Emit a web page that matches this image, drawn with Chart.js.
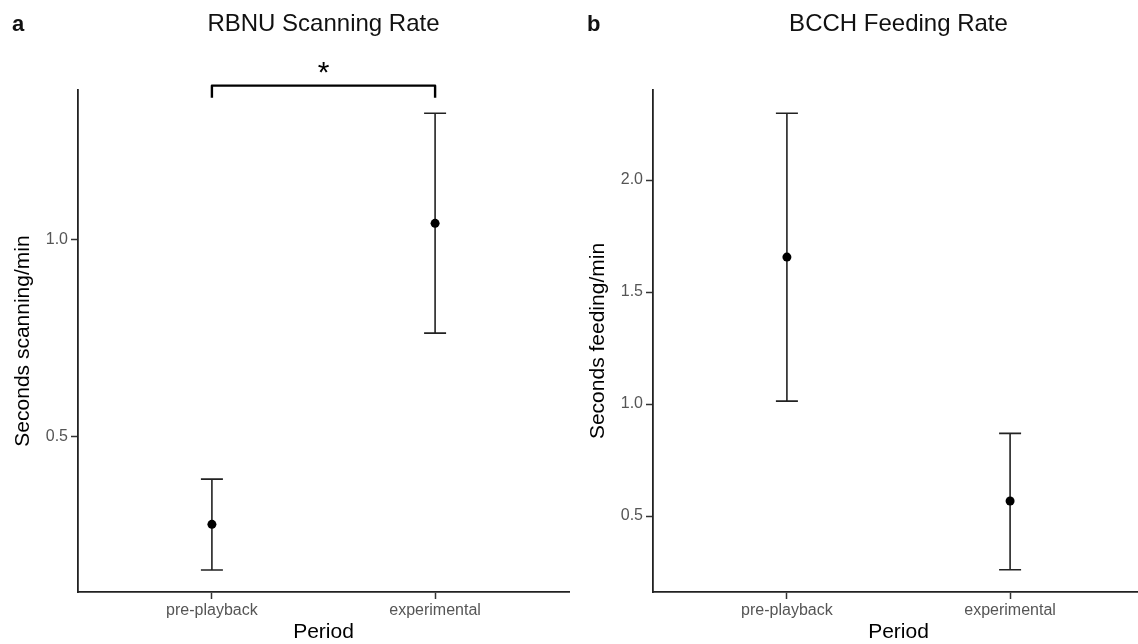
<!DOCTYPE html>
<html>
<head>
<meta charset="utf-8">
<script src="https://cdn.jsdelivr.net/npm/chart.js@4.4.1/dist/chart.umd.min.js"></script>
<style>
  html, body { margin: 0; padding: 0; background: #fff; overflow: hidden; }
  body { width: 1138px; height: 644px; position: relative; }
  canvas { position: absolute; top: 0; }
</style>
</head>
<body>
<canvas id="rbnu" width="575" height="644" style="left:0"></canvas>
<canvas id="bcch" width="575" height="644" style="left:575px"></canvas>
<script>
const periods = ["pre-playback", "experimental"];

// RBNU scanning: mean and error bar ends
const rbnuMean = [0.277, 1.042];
const rbnuLow = [0.161, 0.763];
const rbnuHigh = [0.392, 1.322];
const rbnuTicks = [0.5, 1.0];

// BCCH feeding: mean and error bar ends
const bcchMean = [1.656, 0.567];
const bcchLow = [1.013, 0.260];
const bcchHigh = [2.298, 0.869];
const bcchTicks = [0.5, 1.0, 1.5, 2.0];

const FONT = '"Liberation Sans", Arial, Helvetica, sans-serif';
Chart.defaults.font.family = FONT;

const errorBars = {
  id: "errorBars",
  beforeDatasetsDraw(chart, args, opts) {
    const { ctx, scales: { x, y } } = chart;
    ctx.save();
    ctx.strokeStyle = "#222";
    ctx.lineWidth = 1.6;
    opts.low.forEach((lo, i) => {
      const px = x.getPixelForValue(i);
      const y0 = y.getPixelForValue(lo);
      const y1 = y.getPixelForValue(opts.high[i]);
      ctx.beginPath();
      ctx.moveTo(px, y0);
      ctx.lineTo(px, y1);
      ctx.moveTo(px - 11, y0);
      ctx.lineTo(px + 11, y0);
      ctx.moveTo(px - 11, y1);
      ctx.lineTo(px + 11, y1);
      ctx.stroke();
    });
    ctx.restore();
  }
};

// panel letter, title and the significance bracket
const panelText = {
  id: "panelText",
  afterDraw(chart, args, opts) {
    const { ctx, chartArea, scales: { x, y } } = chart;
    ctx.save();
    ctx.fillStyle = "#111";
    ctx.textBaseline = "alphabetic";
    ctx.font = "bold 22px " + FONT;
    ctx.textAlign = "left";
    ctx.fillText(opts.letter, 12, 31);
    ctx.font = "24px " + FONT;
    ctx.textAlign = "center";
    ctx.fillText(opts.title, (chartArea.left + chartArea.right) / 2, 31);

    if (opts.bracket) {
      const b = opts.bracket;
      const xa = x.getPixelForValue(b.from);
      const xb = x.getPixelForValue(b.to);
      const yl = y.getPixelForValue(b.y);
      const yt = y.getPixelForValue(b.tip);
      ctx.strokeStyle = "#000";
      ctx.lineWidth = 2.4;
      ctx.lineJoin = "round";
      ctx.beginPath();
      ctx.moveTo(xa, yt);
      ctx.lineTo(xa, yl);
      ctx.lineTo(xb, yl);
      ctx.lineTo(xb, yt);
      ctx.stroke();
      ctx.fillStyle = "#000";
      ctx.font = "30px " + FONT;
      ctx.fillText(b.label, (xa + xb) / 2, yl - 4);
    }
    ctx.restore();
  }
};

function makePanel(id, mean, low, high, ticks, yMin, yMax, yTitle, letter, title, bracket) {
  return new Chart(document.getElementById(id), {
    type: "scatter",
    data: {
      datasets: [{
        data: mean.map((v, i) => ({ x: i, y: v })),
        backgroundColor: "#000",
        borderColor: "#000",
        pointRadius: 4.5,
        pointHoverRadius: 4.5,
        borderWidth: 0
      }]
    },
    options: {
      responsive: false,
      animation: false,
      devicePixelRatio: 1,
      layout: { padding: { top: 90, right: 6, bottom: 0, left: 0 } },
      plugins: {
        legend: { display: false },
        tooltip: { enabled: false },
        errorBars: { low: low, high: high },
        panelText: { letter: letter, title: title, bracket: bracket }
      },
      scales: {
        x: {
          type: "linear",
          min: -0.6,
          max: 1.6,
          afterFit: (s) => { s.height = 52; },
          afterBuildTicks: (s) => { s.ticks = periods.map((p, i) => ({ value: i })); },
          ticks: {
            callback: (v) => periods[v],
            color: "#555",
            font: { size: 16 },
            padding: 2,
            maxRotation: 0
          },
          grid: { drawOnChartArea: false, drawTicks: true, tickLength: 7, tickColor: "#333", tickWidth: 1.5 },
          border: { color: "#222", width: 1.8 },
          title: { display: true, text: "Period", color: "#000", font: { size: 21, lineHeight: 1.1 }, padding: { top: 0, bottom: 0 } }
        },
        y: {
          min: yMin,
          max: yMax,
          afterFit: (s) => { s.width = 78; },
          afterBuildTicks: (s) => { s.ticks = ticks.map((v) => ({ value: v })); },
          ticks: {
            callback: (v) => v.toFixed(1),
            color: "#555",
            font: { size: 16 },
            padding: 3
          },
          grid: { drawOnChartArea: false, drawTicks: true, tickLength: 7, tickColor: "#333", tickWidth: 1.5 },
          border: { color: "#222", width: 1.8 },
          title: { display: true, text: yTitle, color: "#000", font: { size: 21, lineHeight: 1.1 }, padding: { top: 12, bottom: 0 } }
        }
      }
    },
    plugins: [errorBars, panelText]
  });
}

makePanel("rbnu", rbnuMean, rbnuLow, rbnuHigh, rbnuTicks, 0.105, 1.381,
  "Seconds scanning/min", "a", "RBNU Scanning Rate",
  { from: 0, to: 1, y: 1.392, tip: 1.361, label: "*" });

makePanel("bcch", bcchMean, bcchLow, bcchHigh, bcchTicks, 0.161, 2.402,
  "Seconds feeding/min", "b", "BCCH Feeding Rate", null);
</script>
</body>
</html>
